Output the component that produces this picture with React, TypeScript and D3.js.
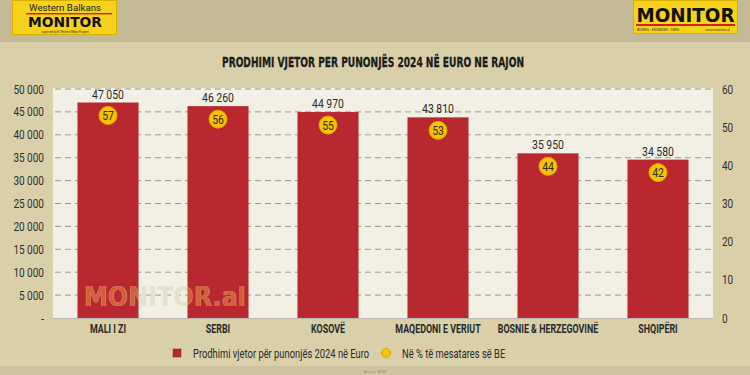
import React from "react";
import * as d3 from "d3";

const categories = ["MALI I ZI", "SERBI", "KOSOVË", "MAQEDONI E VERIUT", "BOSNIE & HERZEGOVINË", "SHQIPËRI"];
const productivity = [47050, 46260, 44970, 43810, 35950, 34580];
const pctOfEU = [57, 56, 55, 53, 44, 42];
const leftTicks = [0, 5000, 10000, 15000, 20000, 25000, 30000, 35000, 40000, 45000, 50000];
const rightTicks = [0, 10, 20, 30, 40, 50, 60];
const title = "PRODHIMI VJETOR PER PUNONJËS 2024 NË EURO NE RAJON";
const legendBar = "Prodhimi vjetor për punonjës 2024 në Euro";
const legendDot = "Në % të mesatares së BE";

const W = 750, H = 375;
const plot = { left: 53, right: 713, top: 89, bottom: 318 };
const FONT = "Roboto, 'Liberation Sans', sans-serif";
const SX = 0.77;

const fmt = d3.formatLocale({ decimal: ",", thousands: " ", grouping: [3], currency: ["", ""] }).format(",");

function CText(props: any) {
  const { x, y, sx = SX, children, ...rest } = props;
  return (
    <text transform={`translate(${x},${y}) scale(${sx},1)`} {...rest}>
      {children}
    </text>
  );
}

export default function App() {
  const x = d3.scaleBand<string>().domain(categories).range([plot.left, plot.right]).paddingInner(0.445).paddingOuter(0.2225);
  const yL = d3.scaleLinear().domain([0, 50000]).range([plot.bottom, plot.top]);
  const yR = d3.scaleLinear().domain([0, 60]).range([plot.bottom, plot.top]);
  const data = categories.map((c, i) => ({ c, v: productivity[i], p: pctOfEU[i] }));

  return (
    <svg width={W} height={H} style={{ position: "absolute", left: 0, top: 0, display: "block" }} fontFamily={FONT}>
      <defs>
        <clipPath id="barsClip">
          {data.map((d) => (
            <rect key={d.c} x={x(d.c)} y={yL(d.v)} width={x.bandwidth()} height={yL(0) - yL(d.v)} />
          ))}
        </clipPath>
      </defs>
      <rect x={0} y={0} width={W} height={H} fill="#d9d0aa" />
      <rect x={0} y={0} width={W} height={42} fill="#c4bb96" />
      <rect x={0} y={366} width={W} height={9} fill="#cdc49f" />

      {/* left logo */}
      <g>
        <rect x={12.5} y={0.5} width={104} height={34} fill="#f6d21a" stroke="#d8b200" />
        <text x={65} y={10.5} textAnchor="middle" fontSize={9.5} fill="#222" textLength={72} lengthAdjust="spacingAndGlyphs">Western Balkans</text>
        <rect x={26} y={13} width={86} height={1.4} fill="#d0202a" />
        <text x={65} y={26.5} textAnchor="middle" fontSize={14} fontWeight="bold" fill="#111" textLength={74} lengthAdjust="spacingAndGlyphs" fontFamily="'DejaVu Sans', sans-serif">MONITOR</text>
        <text x={65} y={33.2} textAnchor="middle" fontSize={2.6} fill="#333">supported by EU Western Media Program</text>
      </g>
      {/* right logo */}
      <g>
        <rect x={633.5} y={0.5} width={104} height={33} fill="#f6d21a" stroke="#d8b200" />
        <text x={685.5} y={22} textAnchor="middle" fontSize={20} fontWeight="bold" fill="#111" textLength={98} lengthAdjust="spacingAndGlyphs" fontFamily="'DejaVu Sans', sans-serif">MONITOR</text>
        <rect x={636} y={24} width={99} height={2} fill="#d0202a" />
        <text x={637} y={31} fontSize={3.6} fill="#333">BIZNES · EKONOMI · TREG</text>
        <text x={705} y={31} fontSize={3.6} fill="#333">www.monitor.al</text>
      </g>

      {/* title */}
      <text x={373} y={67} textAnchor="middle" fontSize={14} fontWeight="bold" fill="#1c1c1c" stroke="#1c1c1c" strokeWidth={0.3} textLength={302} lengthAdjust="spacingAndGlyphs" fontFamily="'DejaVu Sans Condensed', 'DejaVu Sans', sans-serif">{title}</text>

      {/* plot background */}
      <rect x={plot.left} y={plot.top - 1} width={plot.right - plot.left} height={plot.bottom - plot.top + 1} fill="#f2f0e5" />

      {/* gridlines */}
      {leftTicks.slice(1).map((t) => (
        <line key={t} x1={plot.left + 2} x2={plot.right - 2} y1={yL(t)} y2={yL(t)} stroke="#9a9a94" strokeWidth={1} strokeDasharray="6 4" />
      ))}
      <line x1={plot.left} x2={plot.right} y1={plot.bottom + 0.5} y2={plot.bottom + 0.5} stroke="#b8b6ae" strokeWidth={1} />

      {/* bars */}
      {data.map((d) => (
        <rect key={d.c} x={x(d.c)} y={yL(d.v)} width={x.bandwidth()} height={yL(0) - yL(d.v)} fill="#b9272f" />
      ))}

      {/* watermark */}
      <text x={84} y={306} fontSize={26} fontWeight="bold" fill="#e6e1cb" fontFamily="'DejaVu Sans', sans-serif" textLength={162} lengthAdjust="spacingAndGlyphs">MONITOR.al</text>
      <text x={84} y={306} fontSize={26} fontWeight="bold" fill="#d2603f" clipPath="url(#barsClip)" fontFamily="'DejaVu Sans', sans-serif" textLength={162} lengthAdjust="spacingAndGlyphs">MONITOR.al</text>

      {/* value labels */}
      {data.map((d) => (
        <CText key={d.c} x={(x(d.c) as number) + x.bandwidth() / 2} y={yL(d.v) - 4} textAnchor="middle" fontSize={13} fill="#2a2a2a" sx={0.8}>{fmt(d.v)}</CText>
      ))}

      {/* percentage markers */}
      {data.map((d) => {
        const cx = (x(d.c) as number) + x.bandwidth() / 2;
        const cy = yL(d.v) + 13;
        return (
          <g key={d.c}>
            <circle cx={cx} cy={cy} r={9} fill="#f7c300" stroke="#e0a800" strokeWidth={1} />
            <CText x={cx} y={cy + 4.5} textAnchor="middle" fontSize={13} fill="#2a2a2a" sx={0.8}>{d.p}</CText>
          </g>
        );
      })}

      {/* left axis labels */}
      {leftTicks.map((t) => (
        <CText key={t} x={44} y={yL(t) + 4.5} textAnchor="end" fontSize={13} fill="#2e2e2e">{t === 0 ? "-" : fmt(t)}</CText>
      ))}
      {/* right axis labels */}
      {rightTicks.map((t) => (
        <CText key={t} x={722} y={yR(t) + 4.5} textAnchor="start" fontSize={13} fill="#2e2e2e">{t}</CText>
      ))}

      {/* category labels */}
      {categories.map((c) => (
        <CText key={c} x={(x(c) as number) + x.bandwidth() / 2} y={333} textAnchor="middle" fontSize={12} fontWeight="bold" fill="#2a2a2a" sx={0.74}>{c}</CText>
      ))}

      {/* legend */}
      <rect x={173} y={349} width={8} height={8} fill="#b9272f" stroke="#8a1d22" strokeWidth={0.5} />
      <CText x={193} y={357.5} fontSize={12.5} fill="#2a2a2a" sx={0.75}>{legendBar}</CText>
      <circle cx={386} cy={353} r={4.5} fill="#f7c300" stroke="#e0a800" />
      <CText x={402} y={357.5} fontSize={12.5} fill="#2a2a2a" sx={0.75}>{legendDot}</CText>

      <text x={375} y={373} textAnchor="middle" fontSize={4} fill="#9a9278">Burimi: WIIW</text>
    </svg>
  );
}
